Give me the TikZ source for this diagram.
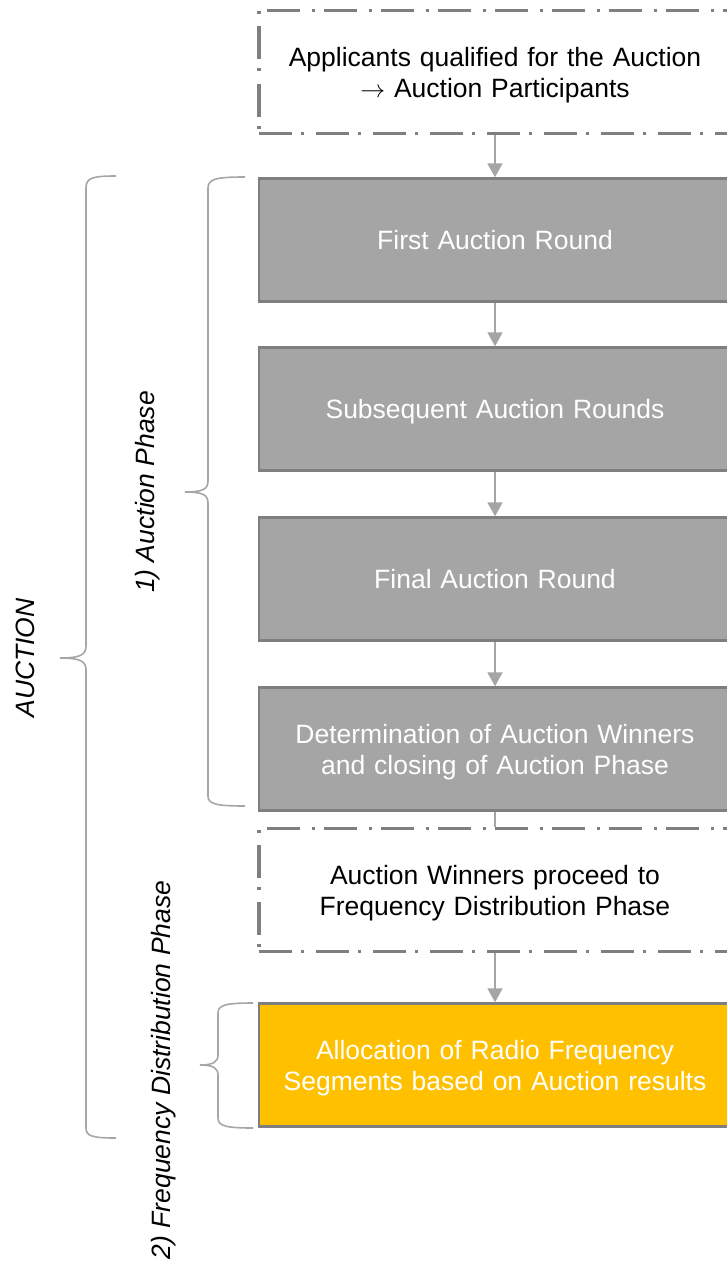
\documentclass[tikz,border=0pt]{standalone}
\usepackage{fontspec}
\setmainfont{Liberation Sans}
\usepackage{tikz}
\usetikzlibrary{arrows.meta}
\definecolor{BoxGray}{HTML}{A5A5A5}
\definecolor{LineGray}{HTML}{7F7F7F}
\definecolor{BraceGray}{HTML}{A6A6A6}
\definecolor{Gold}{HTML}{FFC000}
\tikzset{BoxStyle/.style={draw=LineGray,line width=2.5pt,minimum width=472pt,minimum height=123pt,
        text width=440pt,align=center,inner sep=0pt,font=\fontsize{26.5}{31}\selectfont}}
\tikzset{RoundStyle/.style={BoxStyle,fill=BoxGray,text=white}}
\tikzset{NoteStyle/.style={BoxStyle,fill=white,line width=3.8pt,dash pattern=on 33pt off 9pt on 3pt off 12pt}}
\tikzset{OneLine/.style={text depth=0pt}}
\tikzset{TwoLine/.style={text depth=30pt}}
\tikzset{ArrowStyle/.style={draw=BoxGray,line width=2pt,-{Triangle[width=15pt,length=14pt]}}}
\tikzset{BraceStyle/.style={draw=BraceGray,line width=1.6pt}}
\tikzset{SideStyle/.style={rotate=90,font=\fontsize{26.5}{31}\selectfont\itshape}}

\begin{document}
\begin{tikzpicture}[x=1pt,y=-1pt]
        \useasboundingbox (0,0) rectangle (727,1263);
        \clip (0,0) rectangle (727,1263);
        \node[NoteStyle,TwoLine] (Q) at (495,72) {Applicants qualified for the Auction\\$\rightarrow$ Auction Participants};
        \node[RoundStyle,OneLine] (F) at (495,240) {First Auction Round};
        \node[RoundStyle,OneLine] (S) at (495,409) {Subsequent Auction Rounds};
        \node[RoundStyle,OneLine] (L) at (495,579) {Final Auction Round};
        \node[RoundStyle,TwoLine] (W) at (495,749) {Determination of Auction Winners\\and closing of Auction Phase};
        \node[NoteStyle,TwoLine] (P) at (495,890) {Auction Winners proceed to\\Frequency Distribution Phase};
        \node[RoundStyle,TwoLine,fill=Gold] (A) at (495,1065) {Allocation of Radio Frequency\\Segments based on Auction results};
        \draw[ArrowStyle] (Q) -- (F);
        \draw[ArrowStyle] (F) -- (S);
        \draw[ArrowStyle] (S) -- (L);
        \draw[ArrowStyle] (L) -- (W);
        \draw[draw=BoxGray,line width=2pt] (W) -- (P);
        \draw[ArrowStyle] (P) -- (A);
        \draw[BraceStyle] (116,176) .. controls (92,176) and (86,178) .. (86,188) -- (86,646)
                .. controls (86,655) and (80,658) .. (60,658) .. controls (80,658) and (86,661) .. (86,670)
                -- (86,1128) .. controls (86,1136) and (92,1138) .. (116,1138);
        \draw[BraceStyle] (245,177) .. controls (216,177) and (208,179) .. (208,188) -- (208,481)
                .. controls (208,489) and (203,492) .. (185,492) .. controls (203,492) and (208,495) .. (208,503)
                -- (208,796) .. controls (208,804) and (216,806) .. (245,806);
        \draw[BraceStyle] (253,1003) .. controls (226,1003) and (218,1005) .. (218,1013) -- (218,1055)
                .. controls (218,1062) and (213,1065) .. (200,1065) .. controls (213,1065) and (218,1068) .. (218,1075)
                -- (218,1118) .. controls (218,1126) and (226,1128) .. (253,1128);
        \node[SideStyle] (AU) at (25,658) {AUCTION};
        \node[SideStyle] (AP) at (148,492) {1) Auction Phase};
        \node[SideStyle] (FD) at (164,1070) {2) Frequency Distribution Phase};
\end{tikzpicture}
\end{document}
